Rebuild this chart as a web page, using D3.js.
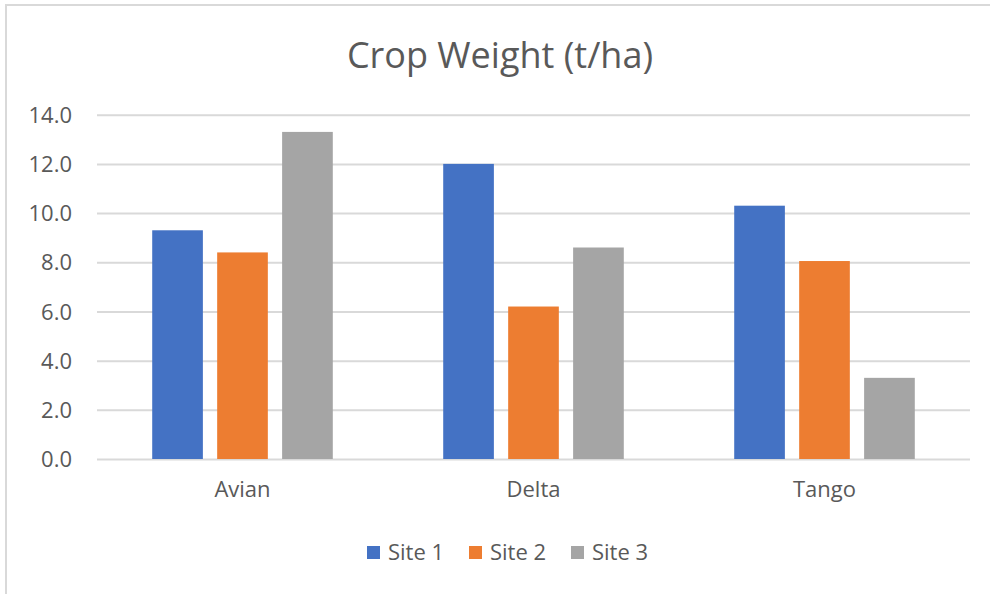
<!DOCTYPE html>
<html>
<head>
<meta charset="utf-8">
<script src="https://cdn.jsdelivr.net/npm/d3@7"></script>
<style>
  body { margin: 0; background: #fff; }
  text { font-family: "Open Sans", sans-serif; fill: #595959; }
</style>
</head>
<body>
<div id="chart"></div>
<script>
// chart data
const categories = ['Avian', 'Delta', 'Tango'];
const seriesNames = ['Site 1', 'Site 2', 'Site 3'];
const site1 = [9.3, 12.0, 10.3];
const site2 = [8.4, 6.2, 8.05];
const site3 = [13.3, 8.6, 3.3];
const yTicks = [0, 2, 4, 6, 8, 10, 12, 14];
const colors = ['#4472C4', '#ED7D31', '#A5A5A5'];

const seriesValues = [site1, site2, site3];

const width = 990, height = 594;
const plot = { left: 97, right: 970, top: 114.7, bottom: 459 };

const svg = d3.select('#chart').append('svg')
    .attr('width', width)
    .attr('height', height);

// chart border (cropped on the right and bottom)
svg.append('rect')
    .attr('x', 6).attr('y', 5)
    .attr('width', 1000).attr('height', 620)
    .attr('fill', 'none')
    .attr('stroke', '#d9d9d9')
    .attr('stroke-width', 2);

svg.append('text')
    .attr('x', 500)
    .attr('y', 68)
    .attr('text-anchor', 'middle')
    .style('font-size', '36px')
    .text('Crop Weight (t/ha)');

const y = d3.scaleLinear().domain([0, 14]).range([plot.bottom, plot.top]);

const x0 = d3.scaleBand()
    .domain(categories)
    .range([plot.left, plot.right])
    .padding(0);

const x1 = d3.scaleBand()
    .domain(seriesNames)
    .range([0, x0.bandwidth()])
    .paddingInner(0.22)
    .paddingOuter(0.85);

// gridlines
const yAxis = d3.axisLeft(y)
    .tickValues(yTicks)
    .tickSize(-(plot.right - plot.left))
    .tickPadding(25)
    .tickFormat(d3.format('.1f'));

const axisG = svg.append('g')
    .attr('transform', `translate(${plot.left},0)`)
    .call(yAxis);
axisG.select('.domain').remove();
axisG.selectAll('.tick line')
    .attr('stroke', '#d9d9d9')
    .attr('stroke-width', 2);
axisG.selectAll('.tick text')
    .style('font-size', '22px')
    .attr('fill', '#595959')
    .attr('dy', '0.35em');

// bars
const groups = svg.append('g').selectAll('g')
    .data(categories)
    .enter()
    .append('g')
    .attr('transform', d => `translate(${x0(d)},0)`);

groups.selectAll('rect')
    .data((d, i) => seriesNames.map((s, j) => ({ series: s, value: seriesValues[j][i], idx: j })))
    .enter()
    .append('rect')
    .attr('x', d => x1(d.series))
    .attr('width', x1.bandwidth())
    .attr('y', d => y(d.value))
    .attr('height', d => y(0) - y(d.value))
    .attr('fill', d => colors[d.idx]);

// category labels
svg.append('g').selectAll('text')
    .data(categories)
    .enter()
    .append('text')
    .attr('x', d => x0(d) + x0.bandwidth() / 2)
    .attr('y', 497)
    .attr('text-anchor', 'middle')
    .style('font-size', '22px')
    .text(d => d);

// legend
const legendX = [367, 469, 571];
const legend = svg.append('g').selectAll('g')
    .data(seriesNames)
    .enter()
    .append('g')
    .attr('transform', (d, i) => `translate(${legendX[i]},546)`);

legend.append('rect')
    .attr('width', 13)
    .attr('height', 13)
    .attr('fill', (d, i) => colors[i]);

legend.append('text')
    .attr('x', 21)
    .attr('y', 14)
    .style('font-size', '22px')
    .text(d => d);
</script>
</body>
</html>
